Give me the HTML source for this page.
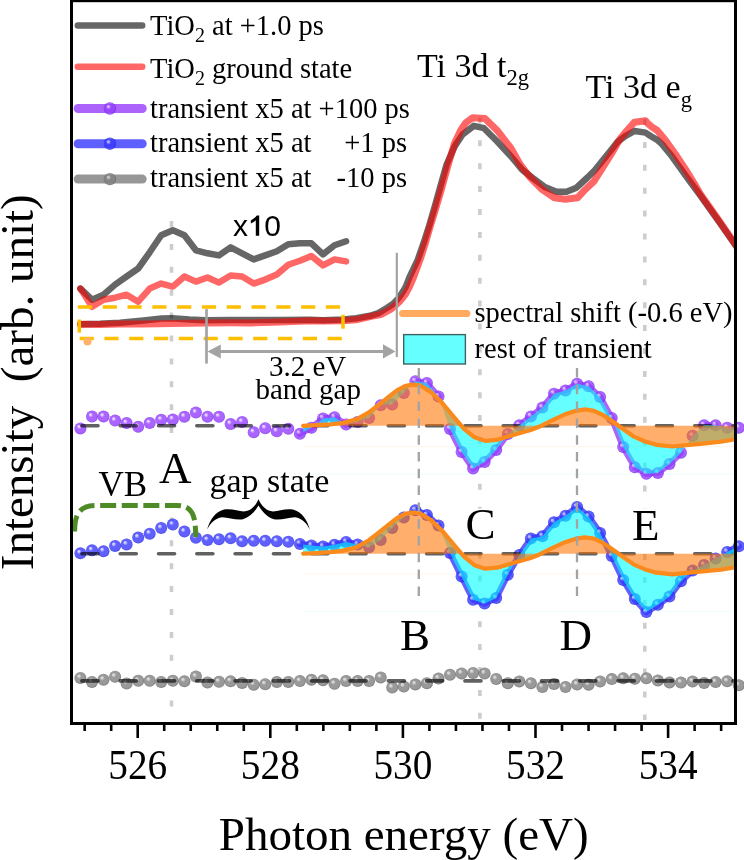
<!DOCTYPE html>
<html><head><meta charset="utf-8"><style>
html,body{margin:0;padding:0;background:#fff;}
body{width:744px;height:860px;overflow:hidden;font-family:"Liberation Serif",serif;}
svg{display:block;will-change:transform;}
</style></head><body>
<svg width="744" height="860" viewBox="0 0 744 860">
<defs>
<clipPath id="plotclip"><rect x="71.5" y="0" width="664" height="723.5"/></clipPath>
<radialGradient id="gp" cx="0.5" cy="0.5" r="0.5" fx="0.34" fy="0.3">
<stop offset="0" stop-color="#dcc8ff"/><stop offset="0.14" stop-color="#dcc8ff"/><stop offset="0.4" stop-color="#953dff"/><stop offset="0.8" stop-color="#953dff"/><stop offset="1" stop-color="#7626e6"/></radialGradient>
<radialGradient id="gb" cx="0.5" cy="0.5" r="0.5" fx="0.34" fy="0.3">
<stop offset="0" stop-color="#c8c8ff"/><stop offset="0.14" stop-color="#c8c8ff"/><stop offset="0.4" stop-color="#3838ff"/><stop offset="0.8" stop-color="#3838ff"/><stop offset="1" stop-color="#2424dc"/></radialGradient>
<radialGradient id="gg" cx="0.5" cy="0.5" r="0.5" fx="0.34" fy="0.3">
<stop offset="0" stop-color="#d0d0d0"/><stop offset="0.14" stop-color="#d0d0d0"/><stop offset="0.4" stop-color="#808080"/><stop offset="0.8" stop-color="#808080"/><stop offset="1" stop-color="#5e5e5e"/></radialGradient>
</defs>
<rect width="744" height="860" fill="#fff"/>
<line x1="303.5" y1="446.6" x2="735" y2="446.6" stroke="#fff5ec" stroke-width="1.2"/>
<line x1="303.5" y1="474.2" x2="735" y2="474.2" stroke="#eefffe" stroke-width="1.2"/>
<line x1="303.5" y1="574" x2="735" y2="574" stroke="#fff5ec" stroke-width="1.2"/>
<line x1="303.5" y1="611.4" x2="735" y2="611.4" stroke="#eefffe" stroke-width="1.2"/>
<line x1="171.5" y1="221" x2="171.5" y2="433" stroke="#cdcdcd" stroke-width="3.6" stroke-dasharray="6 16.9"/>
<line x1="171.5" y1="517.4" x2="171.5" y2="720" stroke="#cdcdcd" stroke-width="3.6" stroke-dasharray="6 16.9"/>
<line x1="479.9" y1="117.4" x2="479.9" y2="720" stroke="#cdcdcd" stroke-width="3.6" stroke-dasharray="6 16.9"/>
<line x1="644.8" y1="119" x2="644.8" y2="720" stroke="#cdcdcd" stroke-width="3.6" stroke-dasharray="6 16.9"/>
<rect x="464" y="508.6" width="31" height="34" fill="#fff"/>
<rect x="630" y="508.4" width="30" height="34" fill="#fff"/>
<g clip-path="url(#plotclip)">
<polyline points="80.4,324.3 100.0,323.8 120.0,322.7 143.6,320.4 161.8,318.6 172.0,318.3 189.3,319.6 205.0,320.3 230.0,319.9 250.0,320.1 280.0,319.9 310.0,319.8 323.0,320.3 343.0,319.4 356.0,318.2 370.0,315.8 378.4,313.1 387.3,307.8 392.9,304.0 398.5,298.3 403.4,290.9 405.8,286.7 409.4,277.3 417.7,259.9 423.8,242.4 429.4,225.0 434.5,207.5 439.4,190.0 446.6,164.5 454.7,146.4 462.7,134.3 473.8,125.8 483.9,128.2 497.0,141.3 511.1,156.5 522.1,169.6 532.2,177.6 544.3,186.7 556.4,191.7 566.5,191.7 576.5,187.7 587.5,177.5 595.0,170.0 602.6,160.6 610.1,151.2 617.6,141.8 625.2,136.2 634.6,131.0 645.5,132.6 651.3,136.5 657.2,139.9 661.9,144.1 666.5,149.7 671.2,155.3 675.8,161.8 680.5,168.3 685.1,174.8 690.0,181.5 700.0,195.0 710.0,209.0 720.0,223.0 734.6,244.0 745.0,259.0" fill="none" stroke="rgba(0,0,0,0.6)" stroke-width="6.5" stroke-linejoin="round" stroke-linecap="round"/>
<polyline points="80.4,288.6 92.0,299.7 103.5,294.7 115.1,284.6 126.6,276.5 138.2,268.5 149.7,252.3 161.2,235.2 172.8,230.2 184.4,235.2 195.9,250.3 207.5,253.3 219.0,255.4 230.6,247.3 242.1,253.3 253.7,259.4 265.2,255.4 276.8,251.3 288.3,244.3 299.9,243.3 311.4,243.3 323.0,254.4 334.5,245.3 346.1,241.3" fill="none" stroke="rgba(0,0,0,0.6)" stroke-width="6.5" stroke-linejoin="round" stroke-linecap="round"/>
<polyline points="80.4,324.3 100.0,324.5 120.0,324.0 143.6,323.9 172.0,323.6 205.0,322.9 230.0,322.7 250.0,322.9 280.0,322.1 310.0,320.8 323.0,320.9 343.0,320.7 356.0,319.8 370.0,316.6 381.6,314.2 391.3,309.0 400.2,300.9 405.5,294.0 409.5,286.5 413.5,277.3 420.0,259.9 425.6,242.4 430.6,225.0 436.0,207.5 441.2,190.0 447.5,167.0 454.5,143.5 460.7,130.2 466.0,122.5 472.8,117.7 484.9,118.5 497.0,130.2 511.1,148.4 520.1,164.5 530.2,177.6 542.3,189.7 554.4,197.8 565.4,199.2 577.5,197.8 584.0,190.8 593.6,181.8 603.0,167.2 611.0,154.5 620.0,139.0 627.0,130.5 634.5,122.2 645.5,120.8 648.2,123.9 652.3,127.3 657.0,130.2 661.1,135.1 665.8,140.7 670.4,147.2 675.1,153.7 679.7,160.7 684.4,167.6 689.0,175.1 694.0,183.0 700.0,193.5 710.0,207.8 720.0,222.0 734.6,243.4 745.0,258.0" fill="none" stroke="rgba(255,0,0,0.6)" stroke-width="7" stroke-linejoin="round" stroke-linecap="round"/>
<polyline points="80.4,288.6 92.0,306.8 103.5,299.7 115.1,297.7 126.6,294.7 138.2,301.7 149.7,288.6 161.2,283.6 172.8,286.6 184.4,276.5 195.9,281.6 207.5,277.5 219.0,282.6 230.6,275.5 242.1,276.5 253.7,283.6 265.2,279.6 276.8,274.5 288.3,264.8 299.9,260.8 311.4,256.0 323.0,265.4 334.5,259.4 346.1,261.4" fill="none" stroke="rgba(255,0,0,0.6)" stroke-width="6.5" stroke-linejoin="round" stroke-linecap="round"/>
</g>
<line x1="77.9" y1="306.9" x2="341" y2="306.9" stroke="#ffbf00" stroke-width="3.5" stroke-dasharray="14.2 10.6"/>
<line x1="79.6" y1="338.5" x2="342.5" y2="338.5" stroke="#ffbf00" stroke-width="3.5" stroke-dasharray="14.2 10.6"/>
<line x1="79.3" y1="319.5" x2="79.3" y2="332.6" stroke="#ffbf00" stroke-width="3.5"/>
<line x1="343" y1="314.8" x2="343" y2="328.7" stroke="#ffbf00" stroke-width="3.5"/>
<circle cx="87.5" cy="341.5" r="4" fill="#ffb26b"/>
<line x1="206.5" y1="309" x2="206.5" y2="363.6" stroke="#a3a3a3" stroke-width="2.7"/>
<line x1="396.8" y1="252.8" x2="396.8" y2="357.1" stroke="#a3a3a3" stroke-width="2.2"/>
<line x1="218" y1="351.5" x2="386" y2="351.5" stroke="#a3a3a3" stroke-width="2.8"/>
<polygon points="207.4,351.5 220.8,344.4 220.8,358.6" fill="#a3a3a3"/>
<polygon points="395.5,351.5 383,344.3 383,358.6" fill="#a3a3a3"/>
<path d="M299.9,433.8L311.4,427.7M311.4,427.7L323.0,418.4M323.0,418.4L334.5,417.3M334.5,417.3L346.1,424.5M415.4,381.3L426.9,383.0M426.9,383.0L438.5,396.5M450.0,429.0L461.6,452.0M461.6,452.0L473.1,468.5M473.1,468.5L484.6,462.0M484.6,462.0L496.2,450.0M496.2,450.0L507.8,434.0M519.3,425.3L530.9,416.5M530.9,416.5L542.4,407.6M542.4,407.6L554.0,393.7M554.0,393.7L565.5,390.4M565.5,390.4L577.1,383.8M577.1,383.8L588.6,386.3M588.6,386.3L600.1,397.0M600.1,397.0L611.7,418.0M611.7,418.0L623.2,447.1M623.2,447.1L634.8,467.3M634.8,467.3L646.4,473.7M646.4,473.7L657.9,472.9M657.9,472.9L669.5,464.0M669.5,464.0L681.0,452.7M704.1,425.3L715.6,425.3" fill="none" stroke="#ab63fb" stroke-width="6.3" stroke-linecap="round"/>
<circle cx="80.4" cy="428.4" r="6" fill="url(#gp)" fill-opacity="0.8"/>
<circle cx="92.0" cy="416.6" r="6" fill="url(#gp)" fill-opacity="0.8"/>
<circle cx="103.5" cy="416.6" r="6" fill="url(#gp)" fill-opacity="0.8"/>
<circle cx="115.1" cy="420.6" r="6" fill="url(#gp)" fill-opacity="0.8"/>
<circle cx="126.6" cy="423.1" r="6" fill="url(#gp)" fill-opacity="0.8"/>
<circle cx="138.2" cy="426.8" r="6" fill="url(#gp)" fill-opacity="0.8"/>
<circle cx="149.7" cy="423.1" r="6" fill="url(#gp)" fill-opacity="0.8"/>
<circle cx="161.2" cy="419.8" r="6" fill="url(#gp)" fill-opacity="0.8"/>
<circle cx="172.8" cy="419.4" r="6" fill="url(#gp)" fill-opacity="0.8"/>
<circle cx="184.4" cy="416.7" r="6" fill="url(#gp)" fill-opacity="0.8"/>
<circle cx="195.9" cy="412.6" r="6" fill="url(#gp)" fill-opacity="0.8"/>
<circle cx="207.5" cy="416.8" r="6" fill="url(#gp)" fill-opacity="0.8"/>
<circle cx="219.0" cy="416.8" r="6" fill="url(#gp)" fill-opacity="0.8"/>
<circle cx="230.6" cy="423.9" r="6" fill="url(#gp)" fill-opacity="0.8"/>
<circle cx="242.1" cy="421.9" r="6" fill="url(#gp)" fill-opacity="0.8"/>
<circle cx="253.7" cy="432.3" r="6" fill="url(#gp)" fill-opacity="0.8"/>
<circle cx="265.2" cy="428.3" r="6" fill="url(#gp)" fill-opacity="0.8"/>
<circle cx="276.8" cy="431.3" r="6" fill="url(#gp)" fill-opacity="0.8"/>
<circle cx="288.3" cy="428.7" r="6" fill="url(#gp)" fill-opacity="0.8"/>
<circle cx="299.9" cy="433.8" r="6" fill="url(#gp)" fill-opacity="0.8"/>
<circle cx="311.4" cy="427.7" r="6" fill="url(#gp)" fill-opacity="0.8"/>
<circle cx="323.0" cy="418.4" r="6" fill="url(#gp)" fill-opacity="0.8"/>
<circle cx="334.5" cy="417.3" r="6" fill="url(#gp)" fill-opacity="0.8"/>
<circle cx="346.1" cy="424.5" r="6" fill="url(#gp)" fill-opacity="0.8"/>
<circle cx="357.6" cy="422.1" r="6" fill="url(#gp)" fill-opacity="0.8"/>
<circle cx="369.1" cy="418.1" r="6" fill="url(#gp)" fill-opacity="0.8"/>
<circle cx="380.7" cy="405.2" r="6" fill="url(#gp)" fill-opacity="0.8"/>
<circle cx="392.2" cy="404.4" r="6" fill="url(#gp)" fill-opacity="0.8"/>
<circle cx="403.8" cy="393.1" r="6" fill="url(#gp)" fill-opacity="0.8"/>
<circle cx="415.4" cy="381.3" r="6" fill="url(#gp)" fill-opacity="0.8"/>
<circle cx="426.9" cy="383.0" r="6" fill="url(#gp)" fill-opacity="0.8"/>
<circle cx="438.5" cy="396.5" r="6" fill="url(#gp)" fill-opacity="0.8"/>
<circle cx="450.0" cy="429.0" r="6" fill="url(#gp)" fill-opacity="0.8"/>
<circle cx="461.6" cy="452.0" r="6" fill="url(#gp)" fill-opacity="0.8"/>
<circle cx="473.1" cy="468.5" r="6" fill="url(#gp)" fill-opacity="0.8"/>
<circle cx="484.6" cy="462.0" r="6" fill="url(#gp)" fill-opacity="0.8"/>
<circle cx="496.2" cy="450.0" r="6" fill="url(#gp)" fill-opacity="0.8"/>
<circle cx="507.8" cy="434.0" r="6" fill="url(#gp)" fill-opacity="0.8"/>
<circle cx="519.3" cy="425.3" r="6" fill="url(#gp)" fill-opacity="0.8"/>
<circle cx="530.9" cy="416.5" r="6" fill="url(#gp)" fill-opacity="0.8"/>
<circle cx="542.4" cy="407.6" r="6" fill="url(#gp)" fill-opacity="0.8"/>
<circle cx="554.0" cy="393.7" r="6" fill="url(#gp)" fill-opacity="0.8"/>
<circle cx="565.5" cy="390.4" r="6" fill="url(#gp)" fill-opacity="0.8"/>
<circle cx="577.1" cy="383.8" r="6" fill="url(#gp)" fill-opacity="0.8"/>
<circle cx="588.6" cy="386.3" r="6" fill="url(#gp)" fill-opacity="0.8"/>
<circle cx="600.1" cy="397.0" r="6" fill="url(#gp)" fill-opacity="0.8"/>
<circle cx="611.7" cy="418.0" r="6" fill="url(#gp)" fill-opacity="0.8"/>
<circle cx="623.2" cy="447.1" r="6" fill="url(#gp)" fill-opacity="0.8"/>
<circle cx="634.8" cy="467.3" r="6" fill="url(#gp)" fill-opacity="0.8"/>
<circle cx="646.4" cy="473.7" r="6" fill="url(#gp)" fill-opacity="0.8"/>
<circle cx="657.9" cy="472.9" r="6" fill="url(#gp)" fill-opacity="0.8"/>
<circle cx="669.5" cy="464.0" r="6" fill="url(#gp)" fill-opacity="0.8"/>
<circle cx="681.0" cy="452.7" r="6" fill="url(#gp)" fill-opacity="0.8"/>
<circle cx="692.6" cy="435.8" r="6" fill="url(#gp)" fill-opacity="0.8"/>
<circle cx="704.1" cy="425.3" r="6" fill="url(#gp)" fill-opacity="0.8"/>
<circle cx="715.6" cy="425.3" r="6" fill="url(#gp)" fill-opacity="0.8"/>
<circle cx="727.2" cy="427.7" r="6" fill="url(#gp)" fill-opacity="0.8"/>
<circle cx="738.8" cy="427.7" r="6" fill="url(#gp)" fill-opacity="0.8"/>
<line x1="81.9" y1="425.8" x2="733.5" y2="425.8" stroke="rgba(0,0,0,0.62)" stroke-width="3.6" stroke-dasharray="16.1 22.2" stroke-linecap="round"/>
<g clip-path="url(#plotclip)">
<polygon points="303.2,432.0 311.4,427.7 323.0,418.4 334.5,417.3 346.1,424.5 357.6,422.1 369.1,418.1 380.7,405.2 392.2,404.4 403.8,393.1 415.4,381.3 426.9,383.0 438.5,396.5 450.0,429.0 461.6,452.0 473.1,468.5 484.6,462.0 496.2,450.0 507.8,434.0 519.3,425.3 530.9,416.5 542.4,407.6 554.0,393.7 565.5,390.4 577.1,383.8 588.6,386.3 600.1,397.0 611.7,418.0 623.2,447.1 634.8,467.3 646.4,473.7 657.9,472.9 669.5,464.0 681.0,452.7 692.6,435.8 704.1,425.3 715.6,425.3 727.2,427.7 735.5,427.7 735.5,439.3 721.0,441.7 705.0,443.3 689.0,444.8 672.5,446.5 656.5,444.8 645.0,441.5 634.0,436.7 622.0,428.3 612.0,421.0 603.0,415.0 594.0,410.8 585.0,409.4 576.0,410.8 565.0,414.3 552.0,420.3 539.0,426.8 530.0,430.3 521.0,432.8 509.0,436.3 497.0,439.8 485.0,440.8 474.5,437.3 464.0,428.8 452.5,415.3 442.3,403.0 431.0,392.1 420.0,385.3 412.0,384.6 405.0,386.0 397.0,390.3 388.0,397.3 378.0,405.3 368.5,412.6 356.5,419.3 342.0,423.0 330.0,424.3 316.0,425.2 303.2,425.8" fill="rgba(0,255,255,0.6)"/>
<polygon points="303.2,425.8 303.2,425.8 316.0,425.2 330.0,424.3 342.0,423.0 356.5,419.3 368.5,412.6 378.0,405.3 388.0,397.3 397.0,390.3 405.0,386.0 412.0,384.6 420.0,385.3 431.0,392.1 442.3,403.0 452.5,415.3 464.0,428.8 474.5,437.3 485.0,440.8 497.0,439.8 509.0,436.3 521.0,432.8 530.0,430.3 539.0,426.8 552.0,420.3 565.0,414.3 576.0,410.8 585.0,409.4 594.0,410.8 603.0,415.0 612.0,421.0 622.0,428.3 634.0,436.7 645.0,441.5 656.5,444.8 672.5,446.5 689.0,444.8 705.0,443.3 721.0,441.7 735.5,439.3 735.5,425.8" fill="rgba(255,115,0,0.58)"/>
<polyline points="303.2,425.8 316.0,425.2 330.0,424.3 342.0,423.0 356.5,419.3 368.5,412.6 378.0,405.3 388.0,397.3 397.0,390.3 405.0,386.0 412.0,384.6 420.0,385.3 431.0,392.1 442.3,403.0 452.5,415.3 464.0,428.8 474.5,437.3 485.0,440.8 497.0,439.8 509.0,436.3 521.0,432.8 530.0,430.3 539.0,426.8 552.0,420.3 565.0,414.3 576.0,410.8 585.0,409.4 594.0,410.8 603.0,415.0 612.0,421.0 622.0,428.3 634.0,436.7 645.0,441.5 656.5,444.8 672.5,446.5 689.0,444.8 705.0,443.3 721.0,441.7 735.5,439.3" fill="none" stroke="#fb8a1c" stroke-width="4.2" stroke-linejoin="round" stroke-linecap="round"/>
</g>
<path d="M299.9,543.9L311.4,545.6M311.4,545.6L323.0,546.5M323.0,546.5L334.5,544.8M334.5,544.8L346.1,541.9M346.1,541.9L357.6,544.5M415.4,510.2L426.9,515.0M426.9,515.0L438.5,525.5M450.0,553.0L461.6,576.5M461.6,576.5L473.1,599.7M473.1,599.7L484.6,603.5M484.6,603.5L496.2,598.1M496.2,598.1L507.8,574.7M507.8,574.7L519.3,555.0M519.3,555.0L530.9,538.6M530.9,538.6L542.4,536.2M542.4,536.2L554.0,522.3M554.0,522.3L565.5,515.8M565.5,515.8L577.1,506.9M577.1,506.9L588.6,516.6M588.6,516.6L600.1,532.9M600.1,532.9L611.7,556.0M611.7,556.0L623.2,580.1M623.2,580.1L634.8,599.1M634.8,599.1L646.4,612.1M646.4,612.1L657.9,604.8M657.9,604.8L669.5,596.6M669.5,596.6L681.0,581.2M681.0,581.2L692.6,570.6M727.2,551.9L738.8,546.2" fill="none" stroke="#5f5ffd" stroke-width="6.3" stroke-linecap="round"/>
<circle cx="80.4" cy="553.3" r="6" fill="url(#gb)" fill-opacity="0.8"/>
<circle cx="92.0" cy="550.3" r="6" fill="url(#gb)" fill-opacity="0.8"/>
<circle cx="103.5" cy="551.2" r="6" fill="url(#gb)" fill-opacity="0.8"/>
<circle cx="115.1" cy="545.9" r="6" fill="url(#gb)" fill-opacity="0.8"/>
<circle cx="126.6" cy="544.5" r="6" fill="url(#gb)" fill-opacity="0.8"/>
<circle cx="138.2" cy="537.5" r="6" fill="url(#gb)" fill-opacity="0.8"/>
<circle cx="149.7" cy="533.7" r="6" fill="url(#gb)" fill-opacity="0.8"/>
<circle cx="161.2" cy="528.1" r="6" fill="url(#gb)" fill-opacity="0.8"/>
<circle cx="172.8" cy="524.6" r="6" fill="url(#gb)" fill-opacity="0.8"/>
<circle cx="184.4" cy="531.6" r="6" fill="url(#gb)" fill-opacity="0.8"/>
<circle cx="195.9" cy="537.8" r="6" fill="url(#gb)" fill-opacity="0.8"/>
<circle cx="207.5" cy="540.0" r="6" fill="url(#gb)" fill-opacity="0.8"/>
<circle cx="219.0" cy="539.2" r="6" fill="url(#gb)" fill-opacity="0.8"/>
<circle cx="230.6" cy="538.3" r="6" fill="url(#gb)" fill-opacity="0.8"/>
<circle cx="242.1" cy="541.2" r="6" fill="url(#gb)" fill-opacity="0.8"/>
<circle cx="253.7" cy="540.8" r="6" fill="url(#gb)" fill-opacity="0.8"/>
<circle cx="265.2" cy="540.8" r="6" fill="url(#gb)" fill-opacity="0.8"/>
<circle cx="276.8" cy="541.2" r="6" fill="url(#gb)" fill-opacity="0.8"/>
<circle cx="288.3" cy="541.8" r="6" fill="url(#gb)" fill-opacity="0.8"/>
<circle cx="299.9" cy="543.9" r="6" fill="url(#gb)" fill-opacity="0.8"/>
<circle cx="311.4" cy="545.6" r="6" fill="url(#gb)" fill-opacity="0.8"/>
<circle cx="323.0" cy="546.5" r="6" fill="url(#gb)" fill-opacity="0.8"/>
<circle cx="334.5" cy="544.8" r="6" fill="url(#gb)" fill-opacity="0.8"/>
<circle cx="346.1" cy="541.9" r="6" fill="url(#gb)" fill-opacity="0.8"/>
<circle cx="357.6" cy="544.5" r="6" fill="url(#gb)" fill-opacity="0.8"/>
<circle cx="369.1" cy="547.3" r="6" fill="url(#gb)" fill-opacity="0.8"/>
<circle cx="380.7" cy="540.0" r="6" fill="url(#gb)" fill-opacity="0.8"/>
<circle cx="392.2" cy="527.9" r="6" fill="url(#gb)" fill-opacity="0.8"/>
<circle cx="403.8" cy="517.4" r="6" fill="url(#gb)" fill-opacity="0.8"/>
<circle cx="415.4" cy="510.2" r="6" fill="url(#gb)" fill-opacity="0.8"/>
<circle cx="426.9" cy="515.0" r="6" fill="url(#gb)" fill-opacity="0.8"/>
<circle cx="438.5" cy="525.5" r="6" fill="url(#gb)" fill-opacity="0.8"/>
<circle cx="450.0" cy="553.0" r="6" fill="url(#gb)" fill-opacity="0.8"/>
<circle cx="461.6" cy="576.5" r="6" fill="url(#gb)" fill-opacity="0.8"/>
<circle cx="473.1" cy="599.7" r="6" fill="url(#gb)" fill-opacity="0.8"/>
<circle cx="484.6" cy="603.5" r="6" fill="url(#gb)" fill-opacity="0.8"/>
<circle cx="496.2" cy="598.1" r="6" fill="url(#gb)" fill-opacity="0.8"/>
<circle cx="507.8" cy="574.7" r="6" fill="url(#gb)" fill-opacity="0.8"/>
<circle cx="519.3" cy="555.0" r="6" fill="url(#gb)" fill-opacity="0.8"/>
<circle cx="530.9" cy="538.6" r="6" fill="url(#gb)" fill-opacity="0.8"/>
<circle cx="542.4" cy="536.2" r="6" fill="url(#gb)" fill-opacity="0.8"/>
<circle cx="554.0" cy="522.3" r="6" fill="url(#gb)" fill-opacity="0.8"/>
<circle cx="565.5" cy="515.8" r="6" fill="url(#gb)" fill-opacity="0.8"/>
<circle cx="577.1" cy="506.9" r="6" fill="url(#gb)" fill-opacity="0.8"/>
<circle cx="588.6" cy="516.6" r="6" fill="url(#gb)" fill-opacity="0.8"/>
<circle cx="600.1" cy="532.9" r="6" fill="url(#gb)" fill-opacity="0.8"/>
<circle cx="611.7" cy="556.0" r="6" fill="url(#gb)" fill-opacity="0.8"/>
<circle cx="623.2" cy="580.1" r="6" fill="url(#gb)" fill-opacity="0.8"/>
<circle cx="634.8" cy="599.1" r="6" fill="url(#gb)" fill-opacity="0.8"/>
<circle cx="646.4" cy="612.1" r="6" fill="url(#gb)" fill-opacity="0.8"/>
<circle cx="657.9" cy="604.8" r="6" fill="url(#gb)" fill-opacity="0.8"/>
<circle cx="669.5" cy="596.6" r="6" fill="url(#gb)" fill-opacity="0.8"/>
<circle cx="681.0" cy="581.2" r="6" fill="url(#gb)" fill-opacity="0.8"/>
<circle cx="692.6" cy="570.6" r="6" fill="url(#gb)" fill-opacity="0.8"/>
<circle cx="704.1" cy="564.9" r="6" fill="url(#gb)" fill-opacity="0.8"/>
<circle cx="715.6" cy="558.4" r="6" fill="url(#gb)" fill-opacity="0.8"/>
<circle cx="727.2" cy="551.9" r="6" fill="url(#gb)" fill-opacity="0.8"/>
<circle cx="738.8" cy="546.2" r="6" fill="url(#gb)" fill-opacity="0.8"/>
<line x1="81.9" y1="553.7" x2="733.5" y2="553.7" stroke="rgba(0,0,0,0.62)" stroke-width="3.6" stroke-dasharray="16.1 22.2" stroke-linecap="round"/>
<g clip-path="url(#plotclip)">
<polygon points="303.2,544.4 311.4,545.6 323.0,546.5 334.5,544.8 346.1,541.9 357.6,544.5 369.1,547.3 380.7,540.0 392.2,527.9 403.8,517.4 415.4,510.2 426.9,515.0 438.5,525.5 450.0,553.0 461.6,576.5 473.1,599.7 484.6,603.5 496.2,598.1 507.8,574.7 519.3,555.0 530.9,538.6 542.4,536.2 554.0,522.3 565.5,515.8 577.1,506.9 588.6,516.6 600.1,532.9 611.7,556.0 623.2,580.1 634.8,599.1 646.4,612.1 657.9,604.8 669.5,596.6 681.0,581.2 692.6,570.6 704.1,564.9 715.6,558.4 727.2,551.9 735.5,547.8 735.5,567.2 721.0,569.6 705.0,571.2 689.0,572.7 672.5,574.4 656.5,572.7 645.0,569.4 634.0,564.6 622.0,556.2 612.0,548.9 603.0,542.9 594.0,538.7 585.0,537.3 576.0,538.7 565.0,542.2 552.0,548.2 539.0,554.7 530.0,558.2 521.0,560.7 509.0,564.2 497.0,567.7 485.0,568.7 474.5,565.2 464.0,556.7 452.5,543.2 442.3,530.9 431.0,520.0 420.0,513.2 412.0,512.5 405.0,513.9 397.0,518.2 388.0,525.2 378.0,533.2 368.5,540.5 356.5,547.2 342.0,550.9 330.0,552.2 316.0,553.1 303.2,553.7" fill="rgba(0,255,255,0.6)"/>
<polygon points="303.2,553.7 303.2,553.7 316.0,553.1 330.0,552.2 342.0,550.9 356.5,547.2 368.5,540.5 378.0,533.2 388.0,525.2 397.0,518.2 405.0,513.9 412.0,512.5 420.0,513.2 431.0,520.0 442.3,530.9 452.5,543.2 464.0,556.7 474.5,565.2 485.0,568.7 497.0,567.7 509.0,564.2 521.0,560.7 530.0,558.2 539.0,554.7 552.0,548.2 565.0,542.2 576.0,538.7 585.0,537.3 594.0,538.7 603.0,542.9 612.0,548.9 622.0,556.2 634.0,564.6 645.0,569.4 656.5,572.7 672.5,574.4 689.0,572.7 705.0,571.2 721.0,569.6 735.5,567.2 735.5,553.7" fill="rgba(255,115,0,0.58)"/>
<polyline points="303.2,553.7 316.0,553.1 330.0,552.2 342.0,550.9 356.5,547.2 368.5,540.5 378.0,533.2 388.0,525.2 397.0,518.2 405.0,513.9 412.0,512.5 420.0,513.2 431.0,520.0 442.3,530.9 452.5,543.2 464.0,556.7 474.5,565.2 485.0,568.7 497.0,567.7 509.0,564.2 521.0,560.7 530.0,558.2 539.0,554.7 552.0,548.2 565.0,542.2 576.0,538.7 585.0,537.3 594.0,538.7 603.0,542.9 612.0,548.9 622.0,556.2 634.0,564.6 645.0,569.4 656.5,572.7 672.5,574.4 689.0,572.7 705.0,571.2 721.0,569.6 735.5,567.2" fill="none" stroke="#fb8a1c" stroke-width="4.2" stroke-linejoin="round" stroke-linecap="round"/>
</g>
<circle cx="80.4" cy="677.9" r="6" fill="url(#gg)" fill-opacity="0.8"/>
<circle cx="92.0" cy="682.0" r="6" fill="url(#gg)" fill-opacity="0.8"/>
<circle cx="103.5" cy="679.7" r="6" fill="url(#gg)" fill-opacity="0.8"/>
<circle cx="115.1" cy="676.7" r="6" fill="url(#gg)" fill-opacity="0.8"/>
<circle cx="126.6" cy="683.6" r="6" fill="url(#gg)" fill-opacity="0.8"/>
<circle cx="138.2" cy="680.8" r="6" fill="url(#gg)" fill-opacity="0.8"/>
<circle cx="149.7" cy="680.8" r="6" fill="url(#gg)" fill-opacity="0.8"/>
<circle cx="161.2" cy="682.0" r="6" fill="url(#gg)" fill-opacity="0.8"/>
<circle cx="172.8" cy="680.8" r="6" fill="url(#gg)" fill-opacity="0.8"/>
<circle cx="184.4" cy="681.3" r="6" fill="url(#gg)" fill-opacity="0.8"/>
<circle cx="195.9" cy="676.6" r="6" fill="url(#gg)" fill-opacity="0.8"/>
<circle cx="207.5" cy="682.6" r="6" fill="url(#gg)" fill-opacity="0.8"/>
<circle cx="219.0" cy="681.8" r="6" fill="url(#gg)" fill-opacity="0.8"/>
<circle cx="230.6" cy="681.2" r="6" fill="url(#gg)" fill-opacity="0.8"/>
<circle cx="242.1" cy="682.9" r="6" fill="url(#gg)" fill-opacity="0.8"/>
<circle cx="253.7" cy="684.7" r="6" fill="url(#gg)" fill-opacity="0.8"/>
<circle cx="265.2" cy="684.3" r="6" fill="url(#gg)" fill-opacity="0.8"/>
<circle cx="276.8" cy="682.0" r="6" fill="url(#gg)" fill-opacity="0.8"/>
<circle cx="288.3" cy="682.0" r="6" fill="url(#gg)" fill-opacity="0.8"/>
<circle cx="299.9" cy="681.1" r="6" fill="url(#gg)" fill-opacity="0.8"/>
<circle cx="311.4" cy="679.7" r="6" fill="url(#gg)" fill-opacity="0.8"/>
<circle cx="323.0" cy="680.2" r="6" fill="url(#gg)" fill-opacity="0.8"/>
<circle cx="334.5" cy="683.8" r="6" fill="url(#gg)" fill-opacity="0.8"/>
<circle cx="346.1" cy="681.1" r="6" fill="url(#gg)" fill-opacity="0.8"/>
<circle cx="357.6" cy="681.1" r="6" fill="url(#gg)" fill-opacity="0.8"/>
<circle cx="369.1" cy="681.1" r="6" fill="url(#gg)" fill-opacity="0.8"/>
<circle cx="380.7" cy="677.4" r="6" fill="url(#gg)" fill-opacity="0.8"/>
<circle cx="392.2" cy="687.6" r="6" fill="url(#gg)" fill-opacity="0.8"/>
<circle cx="403.8" cy="686.5" r="6" fill="url(#gg)" fill-opacity="0.8"/>
<circle cx="415.4" cy="684.5" r="6" fill="url(#gg)" fill-opacity="0.8"/>
<circle cx="426.9" cy="683.2" r="6" fill="url(#gg)" fill-opacity="0.8"/>
<circle cx="438.5" cy="678.4" r="6" fill="url(#gg)" fill-opacity="0.8"/>
<circle cx="450.0" cy="674.8" r="6" fill="url(#gg)" fill-opacity="0.8"/>
<circle cx="461.6" cy="673.5" r="6" fill="url(#gg)" fill-opacity="0.8"/>
<circle cx="473.1" cy="672.9" r="6" fill="url(#gg)" fill-opacity="0.8"/>
<circle cx="484.6" cy="673.5" r="6" fill="url(#gg)" fill-opacity="0.8"/>
<circle cx="496.2" cy="679.0" r="6" fill="url(#gg)" fill-opacity="0.8"/>
<circle cx="507.8" cy="683.2" r="6" fill="url(#gg)" fill-opacity="0.8"/>
<circle cx="519.3" cy="681.6" r="6" fill="url(#gg)" fill-opacity="0.8"/>
<circle cx="530.9" cy="683.2" r="6" fill="url(#gg)" fill-opacity="0.8"/>
<circle cx="542.4" cy="687.1" r="6" fill="url(#gg)" fill-opacity="0.8"/>
<circle cx="554.0" cy="683.9" r="6" fill="url(#gg)" fill-opacity="0.8"/>
<circle cx="565.5" cy="687.1" r="6" fill="url(#gg)" fill-opacity="0.8"/>
<circle cx="577.1" cy="684.5" r="6" fill="url(#gg)" fill-opacity="0.8"/>
<circle cx="588.6" cy="684.8" r="6" fill="url(#gg)" fill-opacity="0.8"/>
<circle cx="600.1" cy="681.5" r="6" fill="url(#gg)" fill-opacity="0.8"/>
<circle cx="611.7" cy="679.1" r="6" fill="url(#gg)" fill-opacity="0.8"/>
<circle cx="623.2" cy="678.2" r="6" fill="url(#gg)" fill-opacity="0.8"/>
<circle cx="634.8" cy="678.7" r="6" fill="url(#gg)" fill-opacity="0.8"/>
<circle cx="646.4" cy="678.2" r="6" fill="url(#gg)" fill-opacity="0.8"/>
<circle cx="657.9" cy="680.4" r="6" fill="url(#gg)" fill-opacity="0.8"/>
<circle cx="669.5" cy="682.6" r="6" fill="url(#gg)" fill-opacity="0.8"/>
<circle cx="681.0" cy="682.6" r="6" fill="url(#gg)" fill-opacity="0.8"/>
<circle cx="692.6" cy="681.5" r="6" fill="url(#gg)" fill-opacity="0.8"/>
<circle cx="704.1" cy="683.1" r="6" fill="url(#gg)" fill-opacity="0.8"/>
<circle cx="715.6" cy="682.0" r="6" fill="url(#gg)" fill-opacity="0.8"/>
<circle cx="727.2" cy="681.3" r="6" fill="url(#gg)" fill-opacity="0.8"/>
<circle cx="738.8" cy="685.3" r="6" fill="url(#gg)" fill-opacity="0.8"/>
<line x1="81.9" y1="680.9" x2="733.5" y2="680.9" stroke="rgba(0,0,0,0.62)" stroke-width="3.6" stroke-dasharray="16.1 22.2" stroke-linecap="round"/>
<line x1="418.8" y1="368" x2="418.8" y2="600" stroke="#a3a3a3" stroke-width="2.3" stroke-dasharray="9.5 7.3"/>
<line x1="577.0" y1="368" x2="577.0" y2="600" stroke="#a3a3a3" stroke-width="2.3" stroke-dasharray="9.5 7.3"/>
<path d="M74.6 531.5 C74.6 514, 80 505.4, 96 505.4 L176 505.4 C192 505.4, 195.7 514, 195.7 537" fill="none" stroke="#4e8a26" stroke-width="5" stroke-dasharray="16 5.6" stroke-dashoffset="0"/>
<path d="M207.1,529.5 C210,520 215,512 224,509.6 C232,508.5 238,511.2 244,511.4 C250,511 255,507 258.5,499.2 C262,507 267,511 273,511.4 C279,511.2 285,508.5 293,509.6 C302,512 307,520 309.9,529.5 C307,524 302,518 295,517.3 C288,517.5 281,520.5 274,519.3 C267,517 262,511.5 258.5,505.5 C255,511.5 250,517 243,519.3 C236,520.5 229,517.5 222,517.3 C215,518 210,524 207.1,529.5 Z" fill="#000"/>
<text x="417" y="76.6" font-family="'Liberation Serif', serif" font-size="34" text-anchor="start" >Ti 3d t<tspan font-size="22.5" dy="8.4">2g</tspan></text>
<text x="585.5" y="97.6" font-family="'Liberation Serif', serif" font-size="34" text-anchor="start" >Ti 3d e<tspan font-size="22.5" dy="9.4">g</tspan></text>
<text x="233" y="235.8" font-family="'Liberation Sans', sans-serif" font-size="30">x</text>
<text x="264.2" y="235.8" font-family="'Liberation Sans', sans-serif" font-size="30">0</text>
<path d="M259.2 215.6 L259.2 235.8 L255.8 235.8 L255.8 220.2 C254.6 221.5 252.8 222.6 250.8 223.5 L250.8 220.4 C253.4 219.2 255.4 217.5 256.8 215.6 Z" fill="#000"/>
<text x="269" y="376.3" font-family="'Liberation Serif', serif" font-size="29" text-anchor="start" >3.2 eV</text>
<text x="255.5" y="399" font-family="'Liberation Serif', serif" font-size="29" text-anchor="start" >band gap</text>
<text x="474.5" y="322" font-family="'Liberation Serif', serif" font-size="28.5" text-anchor="start" >spectral shift (-0.6 eV)</text>
<text x="474.5" y="357.9" font-family="'Liberation Serif', serif" font-size="28.5" text-anchor="start" >rest of transient</text>
<text x="98.5" y="495.5" font-family="'Liberation Serif', serif" font-size="35" text-anchor="start" >VB</text>
<text x="159" y="483.1" font-family="'Liberation Serif', serif" font-size="45" text-anchor="start" >A</text>
<text x="209.5" y="492" font-family="'Liberation Serif', serif" font-size="34" text-anchor="start" >gap state</text>
<text x="400" y="650" font-family="'Liberation Serif', serif" font-size="45" text-anchor="start" >B</text>
<text x="465.5" y="539.3" font-family="'Liberation Serif', serif" font-size="45" text-anchor="start" >C</text>
<text x="559.5" y="650" font-family="'Liberation Serif', serif" font-size="45" text-anchor="start" >D</text>
<text x="632" y="539.7" font-family="'Liberation Serif', serif" font-size="45" text-anchor="start" >E</text>
<line x1="402.6" y1="313.5" x2="466.9" y2="313.5" stroke="#ffaa5e" stroke-width="7" stroke-linecap="round"/>
<rect x="403.7" y="334.6" width="61.7" height="29.4" fill="#66ffff" stroke="#3f6464" stroke-width="1.4"/>
<line x1="77.8" y1="25.4" x2="142.2" y2="25.4" stroke="#666" stroke-width="6.5" stroke-linecap="round"/>
<line x1="77.8" y1="66.8" x2="142.2" y2="66.8" stroke="#ff6666" stroke-width="6.5" stroke-linecap="round"/>
<line x1="78.1" y1="108.5" x2="142.2" y2="108.5" stroke="#ab63fb" stroke-width="9" stroke-linecap="round"/>
<circle cx="109.9" cy="108.5" r="6.2" fill="url(#gp)" fill-opacity="0.8"/>
<line x1="78.1" y1="143.7" x2="142.2" y2="143.7" stroke="#5f5ffd" stroke-width="9" stroke-linecap="round"/>
<circle cx="109.9" cy="143.7" r="6.2" fill="url(#gb)" fill-opacity="0.8"/>
<line x1="78.1" y1="179.1" x2="142.2" y2="179.1" stroke="#979797" stroke-width="9" stroke-linecap="round"/>
<circle cx="109.9" cy="179.1" r="6.2" fill="url(#gg)" fill-opacity="0.8"/>
<text x="150" y="34.8" font-family="'Liberation Serif', serif" font-size="28.5" text-anchor="start" >TiO<tspan font-size="20" dy="7.6">2</tspan><tspan dy="-7.6"> at +1.0 ps</tspan></text>
<text x="150" y="77.8" font-family="'Liberation Serif', serif" font-size="28.5" text-anchor="start" >TiO<tspan font-size="20" dy="7.6">2</tspan><tspan dy="-7.6"> ground state</tspan></text>
<text x="150" y="118.2" font-family="'Liberation Serif', serif" font-size="28.5" text-anchor="start" >transient x5 at +100 ps</text>
<text x="150" y="152.1" font-family="'Liberation Serif', serif" font-size="28.5" text-anchor="start" >transient x5 at</text>
<text x="407" y="152.1" font-family="'Liberation Serif', serif" font-size="28.5" text-anchor="end" >+1 ps</text>
<text x="150" y="187.1" font-family="'Liberation Serif', serif" font-size="28.5" text-anchor="start" >transient x5 at</text>
<text x="407" y="187.1" font-family="'Liberation Serif', serif" font-size="28.5" text-anchor="end" >-10 ps</text>
<rect x="71.5" y="0.7" width="664" height="722.8" fill="none" stroke="#000" stroke-width="3"/>
<line x1="84.66" y1="724" x2="84.66" y2="731" stroke="#000" stroke-width="2.6"/>
<line x1="111.18" y1="724" x2="111.18" y2="731" stroke="#000" stroke-width="2.6"/>
<line x1="137.70" y1="724" x2="137.70" y2="738" stroke="#000" stroke-width="2.6"/>
<line x1="164.22" y1="724" x2="164.22" y2="731" stroke="#000" stroke-width="2.6"/>
<line x1="190.74" y1="724" x2="190.74" y2="731" stroke="#000" stroke-width="2.6"/>
<line x1="217.26" y1="724" x2="217.26" y2="731" stroke="#000" stroke-width="2.6"/>
<line x1="243.78" y1="724" x2="243.78" y2="731" stroke="#000" stroke-width="2.6"/>
<line x1="270.30" y1="724" x2="270.30" y2="738" stroke="#000" stroke-width="2.6"/>
<line x1="296.82" y1="724" x2="296.82" y2="731" stroke="#000" stroke-width="2.6"/>
<line x1="323.34" y1="724" x2="323.34" y2="731" stroke="#000" stroke-width="2.6"/>
<line x1="349.86" y1="724" x2="349.86" y2="731" stroke="#000" stroke-width="2.6"/>
<line x1="376.38" y1="724" x2="376.38" y2="731" stroke="#000" stroke-width="2.6"/>
<line x1="402.90" y1="724" x2="402.90" y2="738" stroke="#000" stroke-width="2.6"/>
<line x1="429.42" y1="724" x2="429.42" y2="731" stroke="#000" stroke-width="2.6"/>
<line x1="455.94" y1="724" x2="455.94" y2="731" stroke="#000" stroke-width="2.6"/>
<line x1="482.46" y1="724" x2="482.46" y2="731" stroke="#000" stroke-width="2.6"/>
<line x1="508.98" y1="724" x2="508.98" y2="731" stroke="#000" stroke-width="2.6"/>
<line x1="535.50" y1="724" x2="535.50" y2="738" stroke="#000" stroke-width="2.6"/>
<line x1="562.02" y1="724" x2="562.02" y2="731" stroke="#000" stroke-width="2.6"/>
<line x1="588.54" y1="724" x2="588.54" y2="731" stroke="#000" stroke-width="2.6"/>
<line x1="615.06" y1="724" x2="615.06" y2="731" stroke="#000" stroke-width="2.6"/>
<line x1="641.58" y1="724" x2="641.58" y2="731" stroke="#000" stroke-width="2.6"/>
<line x1="668.10" y1="724" x2="668.10" y2="738" stroke="#000" stroke-width="2.6"/>
<line x1="694.62" y1="724" x2="694.62" y2="731" stroke="#000" stroke-width="2.6"/>
<line x1="721.14" y1="724" x2="721.14" y2="731" stroke="#000" stroke-width="2.6"/>
<text transform="translate(137.70,779.3) scale(0.925,1)" font-family="'Liberation Serif', serif" font-size="42.5" text-anchor="middle">526</text>
<text transform="translate(270.30,779.3) scale(0.925,1)" font-family="'Liberation Serif', serif" font-size="42.5" text-anchor="middle">528</text>
<text transform="translate(402.90,779.3) scale(0.925,1)" font-family="'Liberation Serif', serif" font-size="42.5" text-anchor="middle">530</text>
<text transform="translate(535.50,779.3) scale(0.925,1)" font-family="'Liberation Serif', serif" font-size="42.5" text-anchor="middle">532</text>
<text transform="translate(668.10,779.3) scale(0.925,1)" font-family="'Liberation Serif', serif" font-size="42.5" text-anchor="middle">534</text>
<text x="403.7" y="849.7" font-family="'Liberation Serif', serif" font-size="47" text-anchor="middle" >Photon energy (eV)</text>
<text transform="translate(33.3,382.3) rotate(-90)" font-family="'Liberation Serif', serif" font-size="47" text-anchor="middle" xml:space="preserve">Intensity  (arb. unit)</text>
</svg>
</body></html>
